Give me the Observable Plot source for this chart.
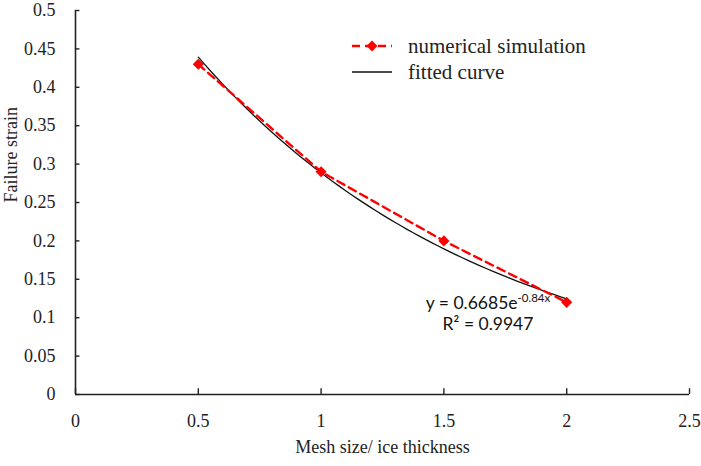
<!DOCTYPE html>
<html>
<head>
<meta charset="utf-8">
<script src="https://cdn.jsdelivr.net/npm/d3@7"></script>
<script src="https://cdn.jsdelivr.net/npm/@observablehq/plot@0.6"></script>
<style>
  body { margin: 0; background: #fff; }
  #wrap { position: relative; width: 701px; height: 466px; }
  .legend { position: absolute; left: 350px; top: 33px; font: 21px "Liberation Serif", "DejaVu Serif", serif; color: #222; }
  .legend .row { display: flex; align-items: center; height: 26px; }
  .legend svg { margin-right: 14px; }
  .eq { position: absolute; left: 398px; top: 292px; width: 180px; text-align: center; font: 17.5px Lato, "Open Sans", sans-serif; color: #111; line-height: 21px; }
  .eq sup { font-size: 11.5px; vertical-align: 7px; line-height: 0; }
</style>
</head>
<body>
<div id="wrap"></div>
<script>
// Simulated failure strain at each mesh-size / ice-thickness ratio
const meshRatio = [0.5, 1.0, 1.5, 2.0];
const failureStrain = [0.43, 0.29, 0.20, 0.12];

// Exponential trendline y = a·e^(b·x) and its goodness of fit
const fitA = 0.6685;
const fitB = -0.84;
const fitR2 = 0.9947;
const fitRange = [0.5, 2.0];

const xTicks = [0, 0.5, 1, 1.5, 2, 2.5];
const yTicks = [0, 0.05, 0.1, 0.15, 0.2, 0.25, 0.3, 0.35, 0.4, 0.45, 0.5];

const sim = meshRatio.map((x, i) => ({x, y: failureStrain[i]}));

const fmt = d => String(+d.toFixed(2));
const serif = `"Liberation Serif", "DejaVu Serif", serif`;
const ink = "#222";

const chart = Plot.plot({
  width: 701,
  height: 466,
  marginLeft: 75,
  marginRight: 12,
  marginTop: 10,
  marginBottom: 72,
  style: {fontFamily: serif, fontSize: "18px", color: ink, background: "#fff"},
  x: {domain: [0, 2.5], axis: null},
  y: {domain: [0, 0.5], axis: null},
  marks: [
    // axis lines
    Plot.ruleX([0], {stroke: ink, strokeWidth: 1.6}),
    Plot.ruleY([0], {stroke: ink, strokeWidth: 1.6}),
    // inward tick marks
    Plot.ruleY(yTicks, {y: d => d, x1: 0, x2: 0.018, stroke: ink, strokeWidth: 1.4}),
    Plot.ruleX(xTicks, {x: d => d, y1: 0, y2: 0.0075, stroke: ink, strokeWidth: 1.4}),
    // tick labels
    Plot.text(yTicks, {x: 0, y: d => d, text: fmt, textAnchor: "end", dx: -20, fontSize: 18, fontFamily: serif, fill: ink}),
    Plot.text(xTicks, {x: d => d, y: 0, text: fmt, dy: 27, fontSize: 18, fontFamily: serif, fill: ink}),
    // axis titles
    Plot.text(["Mesh size/ ice thickness"], {frameAnchor: "bottom", dy: 58, fontSize: 18, fontFamily: serif, fill: ink}),
    Plot.text(["Failure strain"], {frameAnchor: "left", dx: -64, rotate: -90, fontSize: 18, fontFamily: serif, fill: ink}),
    // fitted exponential curve
    Plot.line(
      d3.range(0, 61).map(i => {
        const x = fitRange[0] + (fitRange[1] - fitRange[0]) * i / 60;
        return {x, y: fitA * Math.exp(fitB * x)};
      }),
      {x: "x", y: "y", stroke: "#111", strokeWidth: 1.3}
    ),
    // simulation results
    Plot.line(sim, {x: "x", y: "y", stroke: "#ff0000", strokeWidth: 2.4, strokeDasharray: "8,5"}),
    Plot.dot(sim, {x: "x", y: "y", symbol: "diamond2", r: 5, fill: "#ff0000", stroke: "none"})
  ]
});

const wrap = document.getElementById("wrap");
wrap.appendChild(chart);

// legend
const legend = document.createElement("div");
legend.className = "legend";
legend.innerHTML = `
  <div class="row"><svg width="44" height="14"><line x1="2" y1="7" x2="42" y2="7" stroke="#ff0000" stroke-width="2.4" stroke-dasharray="8,5"/><path d="M22,1.5 L27.5,7 L22,12.5 L16.5,7 Z" fill="#ff0000"/></svg>numerical simulation</div>
  <div class="row"><svg width="44" height="14"><line x1="2" y1="7" x2="42" y2="7" stroke="#111" stroke-width="1.3"/></svg>fitted curve</div>`;
wrap.appendChild(legend);

// trendline equation
const eq = document.createElement("div");
eq.className = "eq";
eq.innerHTML = `y = ${fitA}e<sup>${fitB}x</sup><br>R² = ${fitR2}`;
wrap.appendChild(eq);
</script>
</body>
</html>
